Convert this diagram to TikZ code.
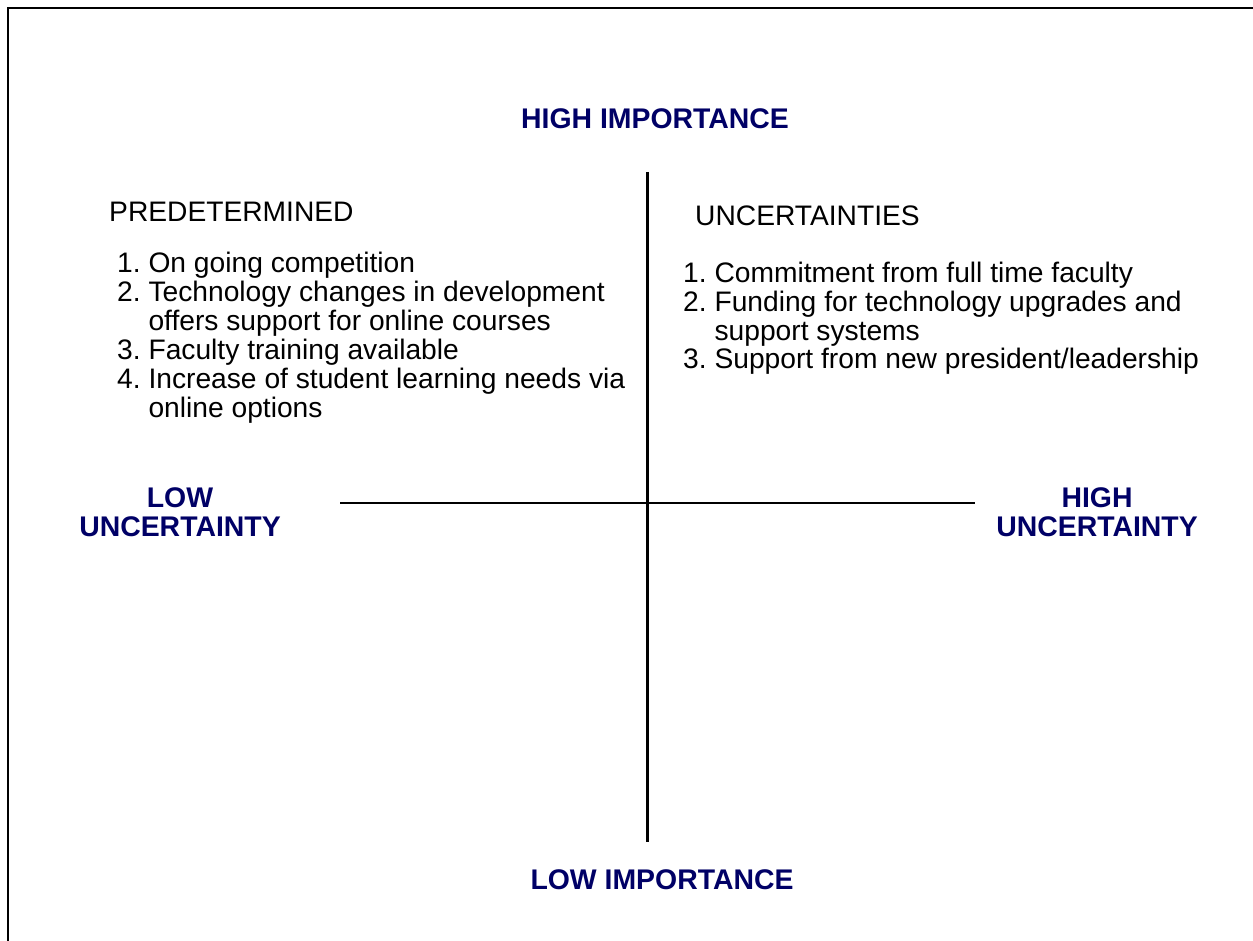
\documentclass[tikz,border=0pt]{standalone}
\usepackage{fontspec}
\setmainfont{Liberation Sans}
\definecolor{navy}{RGB}{0,0,102}

\tikzset{
  axislabel/.style={font=\fontsize{28.4}{29}\selectfont\bfseries, text=navy, inner sep=0pt, anchor=base},
  listtext/.style={font=\fontsize{28.2}{28.2}\selectfont, inner sep=0pt, anchor=base west},
  axisline/.style={line width=2.8pt},
}

\begin{document}
\begin{tikzpicture}[x=1pt,y=-1pt]
\useasboundingbox (0,0) rectangle (1253,941);

% Frame (left and top edges)
\draw[line width=2.6pt] (8,941) -- (8,8) -- (1253,8);

% Axes
\coordinate (top) at (647.5,172);
\coordinate (bottom) at (647.5,842);
\coordinate (left) at (340,503);
\coordinate (right) at (975,503);
\draw[axisline] (top) -- (bottom);
\draw[axisline] (left) -- (right);

% Axis labels
\node[axislabel] (hiimp) at (655,129) {HIGH IMPORTANCE};
\node[axislabel] (loimp) at (662,889) {LOW IMPORTANCE};
\node[axislabel] (lounc) at (180,507)
  {\begin{tabular}[t]{@{}c@{}}LOW\\UNCERTAINTY\end{tabular}};
\node[axislabel] (hiunc) at (1097,507)
  {\begin{tabular}[t]{@{}c@{}}HIGH\\UNCERTAINTY\end{tabular}};

% Quadrant headings
\node[listtext] (predet) at (109,222) {PREDETERMINED};
\node[listtext] (uncert) at (695,226) {UNCERTAINTIES};

% Predetermined elements
\node[listtext] (predetlist) at (117,273)
  {\begin{tabular}[t]{@{}l@{\ }l@{}}
   1. & On going competition\\
   2. & Technology changes in development\\
      & offers support for online courses\\
   3. & Faculty training available\\
   4. & Increase of student learning needs via\\
      & online options
   \end{tabular}};

% Critical uncertainties
\node[listtext] (uncertlist) at (683,283)
  {\begin{tabular}[t]{@{}l@{\ }l@{}}
   1. & Commitment from full time faculty\\
   2. & Funding for technology upgrades and\\
      & support systems\\
   3. & Support from new president/leadership
   \end{tabular}};

\end{tikzpicture}
\end{document}
